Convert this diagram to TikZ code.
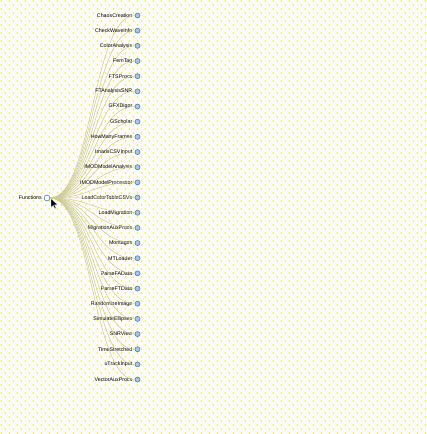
\documentclass[tikz,border=0pt]{standalone}
\usepackage{fontspec}
\setmainfont{Liberation Sans}
\definecolor{paper}{RGB}{252,252,254}
\definecolor{dotyellow}{RGB}{245,236,50}
\definecolor{linkgray}{RGB}{205,202,150}
\definecolor{nodestroke}{RGB}{70,130,180}
\definecolor{nodefill}{RGB}{176,196,222}

\begin{document}
\begin{tikzpicture}[
  x=1pt, y=-1pt,
  every node/.style={font=\fontsize{5.3}{6}\selectfont},
  leaf/.style={circle, draw=nodestroke, fill=nodefill, line width=0.6pt,
               minimum size=5pt, inner sep=0pt},
  rootnode/.style={leaf, fill=white, minimum size=5.8pt},
  lbl/.style={anchor=east, inner sep=0pt, text=black},
  link/.style={draw=linkgray, line width=0.5pt},
]
\useasboundingbox (0,0) rectangle (426,434);

% paper with dotted grid
\fill[paper] (0,0) rectangle (426,434);
\foreach \r in {0,...,108} {
  \pgfmathsetmacro{\off}{4*mod(\r,2)+1.5}
  \fill[dotyellow] \foreach \c in {0,...,53} { ({8*\c+\off}, {4*\r+1}) circle (0.85) };
}

% root
\node[rootnode] (root) at (47,198) {};
\node[lbl] (rootlbl) at ([xshift=-5pt]root.center) {Functions};

% children
\foreach \name [count=\k from 0] in {ChaosCreation, CheckWaveInfo,
    ColorAnalysis, FemTag, FTSProcs, FTAnalysisSNR, GFXDigor, GScholar,
    HowManyFrames, ImarisCSVInput, IMODModelAnalysis, IMODModelProcessor,
    LoadColorTableCSVs, LoadMigration, MigrationAuxProcs, Montages,
    MTLoader, ParseFAData, ParseFTData, RandomizeImage, SimulateEllipses,
    SNRView, TimeStretched, uTrackInput, VectorAuxProcs} {
  \node[leaf] (c\k) at (137.5, {15.5+15.17*\k}) {};
  \node[lbl] (t\k) at ([xshift=-5pt]c\k.center) {\name};
  \draw[link] (root) .. controls +(45,0) and +(-45,0) .. (c\k);
}

% mouse pointer
\filldraw[fill=black, draw=white, line width=0.4pt]
  (51,198.5) -- (51,207.5) -- (53.2,205.4) -- (54.8,208.8) -- (56.1,208.2)
  -- (54.6,204.9) -- (57.6,204.7) -- cycle;
\end{tikzpicture}
\end{document}
